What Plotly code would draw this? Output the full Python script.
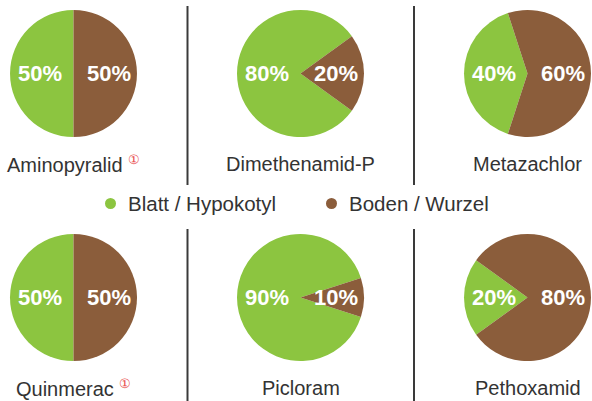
import plotly.graph_objects as go

# ---- data ----
names = ["Aminopyralid", "Dimethenamid-P", "Metazachlor", "Quinmerac", "Picloram", "Pethoxamid"]
blatt = [50, 80, 40, 50, 90, 20]   # Blatt / Hypokotyl (%)
boden = [50, 20, 60, 50, 10, 80]   # Boden / Wurzel (%)
has_note = [True, False, False, True, False, False]
series_names = ["Blatt / Hypokotyl", "Boden / Wurzel"]

# ---- style / layout ----
W, H = 592, 401
colors = ["#8cc540", "#8b5d3b"]
text_color = "#333333"
col_cx = [73.5, 300.5, 527.5]
row_cy = [73.5, 297.5]
label_y = [163.5, 388]
R = 63.5

def px(x):
    return x / W

def py(y):
    return 1 - y / H

fig = go.Figure()
annotations = []
shapes = []

for i, name in enumerate(names):
    r, c = divmod(i, 3)
    cx, cy = col_cx[c], row_cy[r]
    g, b = blatt[i], boden[i]
    fig.add_trace(go.Pie(
        values=[g, b],
        labels=series_names,
        marker=dict(colors=colors, line=dict(width=0)),
        sort=False,
        direction="clockwise",
        rotation=270 - g * 1.8,
        textinfo="none",
        hoverinfo="label+percent",
        showlegend=False,
        domain=dict(x=[px(cx - R), px(cx + R)], y=[py(cy + R), py(cy - R)]),
    ))
    # percentage labels
    for val, dx in ((g, -33.5), (b, 35)):
        annotations.append(dict(
            x=px(cx + dx), y=py(cy), xref="paper", yref="paper",
            text=f"{val}%", showarrow=False, xanchor="center", yanchor="middle",
            font=dict(family="Liberation Sans, Arial, sans-serif", size=22, color="white", weight="bold"),
        ))
    # name label
    txt = name
    if has_note[i]:
        txt += " <span style='color:#e8484a;font-size:19px'><sup>\u2460</sup></span>"
    annotations.append(dict(
        x=px(cx), y=py(label_y[r]), xref="paper", yref="paper",
        text=txt, showarrow=False, xanchor="center", yanchor="middle",
        font=dict(family="Liberation Sans, Arial, sans-serif", size=20, color=text_color),
    ))

# legend (manual)
legend_items = [(110.5, 126), (331.5, 347)]
for (mx, tx), nm, col in zip(legend_items, series_names, colors):
    shapes.append(dict(type="circle", xref="paper", yref="paper",
                       x0=px(mx - 5.5), x1=px(mx + 5.5), y0=py(203.5 + 5.5), y1=py(203.5 - 5.5),
                       fillcolor=col, line=dict(width=0)))
    annotations.append(dict(
        x=px(tx), y=py(204), xref="paper", yref="paper", text=nm, showarrow=False,
        xanchor="left", yanchor="middle",
        font=dict(family="Liberation Sans, Arial, sans-serif", size=20.5, color=text_color),
    ))

# vertical separators
for lx in (187.5, 414):
    for y0, y1 in ((6, 185), (229, 401)):
        shapes.append(dict(type="line", xref="paper", yref="paper",
                           x0=px(lx), x1=px(lx), y0=py(y0), y1=py(y1),
                           line=dict(color="#3a3a3a", width=2)))

fig.update_layout(
    width=W, height=H,
    margin=dict(l=0, r=0, t=0, b=0),
    paper_bgcolor="white", plot_bgcolor="white",
    annotations=annotations, shapes=shapes,
    showlegend=False,
)

fig.write_html("out.html", config={"displayModeBar": False},
               post_script="document.body.style.margin='0';document.body.style.overflow='hidden';")
